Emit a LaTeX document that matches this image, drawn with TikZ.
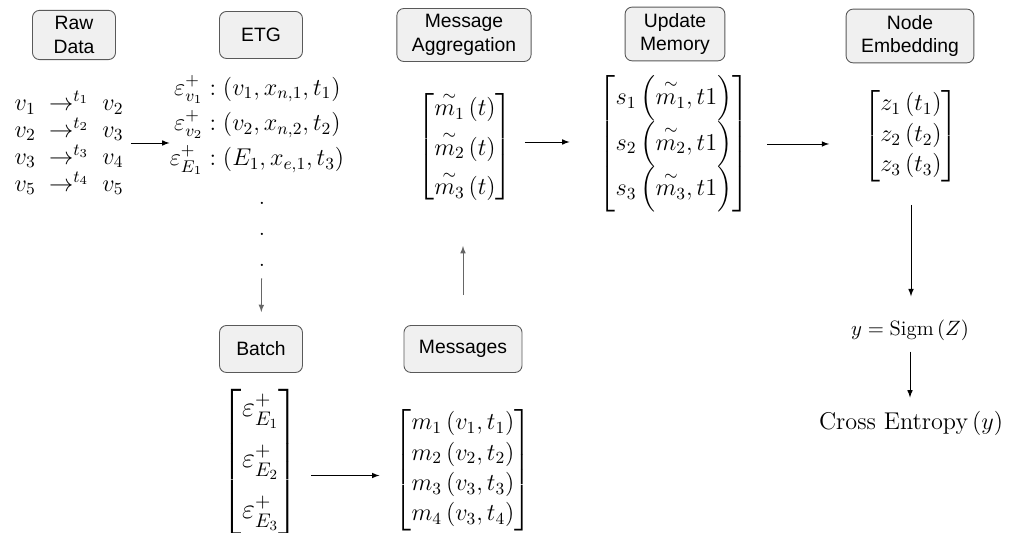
\RequirePackage{fix-cm}
\documentclass[tikz,border=0pt]{standalone}
\usepackage{amsmath}
\usepackage{fontspec}
\setsansfont{Liberation Sans}
\usepackage{tikz}
\usetikzlibrary{
    calc,
    arrows
}
\tikzset{
    stagebox/.style={draw=black!65, fill=black!6, rounded corners=4pt, line width=0.5pt,
        align=center, font=\sffamily\fontsize{11}{13.5}\selectfont,
        minimum width=1.66cm, minimum height=0.94cm, inner xsep=0.3cm, inner ysep=0.12cm},
    mathnode/.style={inner sep=0pt, font=\fontsize{13.8}{15.3}\selectfont},
    flow/.style={->, >=latex, line width=0.45pt},
    flowgray/.style={flow, draw=black!60, color=black!60},
}

\begin{document}
\begin{tikzpicture}
        \useasboundingbox (0,0) rectangle (20.28,10.66);

        % stage labels
        \draw (1.48,9.96) node[stagebox](rawbox){Raw\\Data};
        \draw (5.22,9.96) node[stagebox](etgbox){ETG};
        \draw (9.28,9.96) node[stagebox](aggbox){Message\\Aggregation};
        \draw (13.5,9.98) node[stagebox](membox){Update\\Memory};
        \draw (18.2,9.94) node[stagebox](embbox){Node\\Embedding};
        \draw (5.22,3.68) node[stagebox](batchbox){Batch};
        \draw (9.26,3.68) node[stagebox](msgbox){Messages};

        % top row
        \draw (1.38,7.80) node[mathnode, align=left](raw){%
            $v_1 \;\rightarrow^{t_1}\; v_2$\\
            $v_2 \;\rightarrow^{t_2}\; v_3$\\
            $v_3 \;\rightarrow^{t_3}\; v_4$\\
            $v_5 \;\rightarrow^{t_4}\; v_5$};
        \draw (5.14,8.16) node[mathnode](etg){$\begin{aligned}
            \varepsilon^{+}_{v_1} &: \left(v_1, x_{n,1}, t_1\right)\\
            \varepsilon^{+}_{v_2} &: \left(v_2, x_{n,2}, t_2\right)\\
            \varepsilon^{+}_{E_1} &: \left(E_1, x_{e,1}, t_3\right)
        \end{aligned}$};
        \draw (5.24,5.98) node[mathnode, align=center, font=\fontsize{13}{17.6}\selectfont](etgdots){.\\.\\.};
        \draw (9.3,7.72) node[mathnode](agg){$\begin{bmatrix}
            \overset{\sim}{m_1}\left(t\right)\\[4pt]
            \overset{\sim}{m_2}\left(t\right)\\[4pt]
            \overset{\sim}{m_3}\left(t\right)
        \end{bmatrix}$};
        \draw (13.48,7.78) node[mathnode](mem){$\begin{bmatrix}
            s_1\left(\overset{\sim}{m_1}, t1\right)\\[2.5pt]
            s_2\left(\overset{\sim}{m_2}, t1\right)\\[2.5pt]
            s_3\left(\overset{\sim}{m_3}, t1\right)
        \end{bmatrix}$};
        \draw (18.22,7.94) node[mathnode](emb){$\begin{bmatrix}
            z_1\left(t_1\right)\\[2pt]
            z_2\left(t_2\right)\\[2pt]
            z_3\left(t_3\right)
        \end{bmatrix}$};

        % bottom row
        \draw (5.21,1.42) node[mathnode, font=\fontsize{16}{19}\selectfont](batch){$\begin{bmatrix}
            \varepsilon^{+}_{E_1}\\[10pt]
            \varepsilon^{+}_{E_2}\\[10pt]
            \varepsilon^{+}_{E_3}
        \end{bmatrix}$};
        \draw (9.26,1.26) node[mathnode](msgs){$\begin{bmatrix}
            m_1\left(v_1, t_1\right)\\[2pt]
            m_2\left(v_2, t_2\right)\\[2pt]
            m_3\left(v_3, t_3\right)\\[2pt]
            m_4\left(v_3, t_4\right)
        \end{bmatrix}$};
        \draw (18.2,4.06) node[mathnode, font=\fontsize{11.8}{14}\selectfont](sigm){$y = \mathrm{Sigm}\left(Z\right)$};
        \draw (18.22,2.2) node[mathnode](loss){$\text{Cross Entropy}\left(y\right)$};

        % flow between stages
        \draw[flow, shorten <=0.14cm] (raw.east) to (raw.east -| etg.west);
        \draw[flowgray, shorten <=0.24cm, shorten >=0.26cm] (etgdots) to (batchbox);
        \draw[flow, shorten <=0.24cm, shorten >=0.3cm] ([yshift=-0.27cm]batch.east) to ([yshift=-0.27cm]batch.east -| msgs.west);
        \draw[flowgray, shorten <=0.6cm, shorten >=0.86cm] (msgbox.north) to (msgbox.north |- agg.south);
        \draw[flow, shorten <=0.24cm, shorten >=0.58cm] ([yshift=0.1cm]agg.east) to ([yshift=0.1cm]agg.east -| mem.west);
        \draw[flow, shorten <=0.36cm, shorten >=0.68cm] (mem.east) to (mem.east -| emb.west);
        \draw[flow, shorten <=0.46cm, shorten >=0.46cm] (emb.south) to (emb.south |- sigm.north);
        \draw[flow, shorten <=0.22cm, shorten >=0.26cm] (sigm.south) to (sigm.south |- loss.north);
    \end{tikzpicture}
\end{document}
